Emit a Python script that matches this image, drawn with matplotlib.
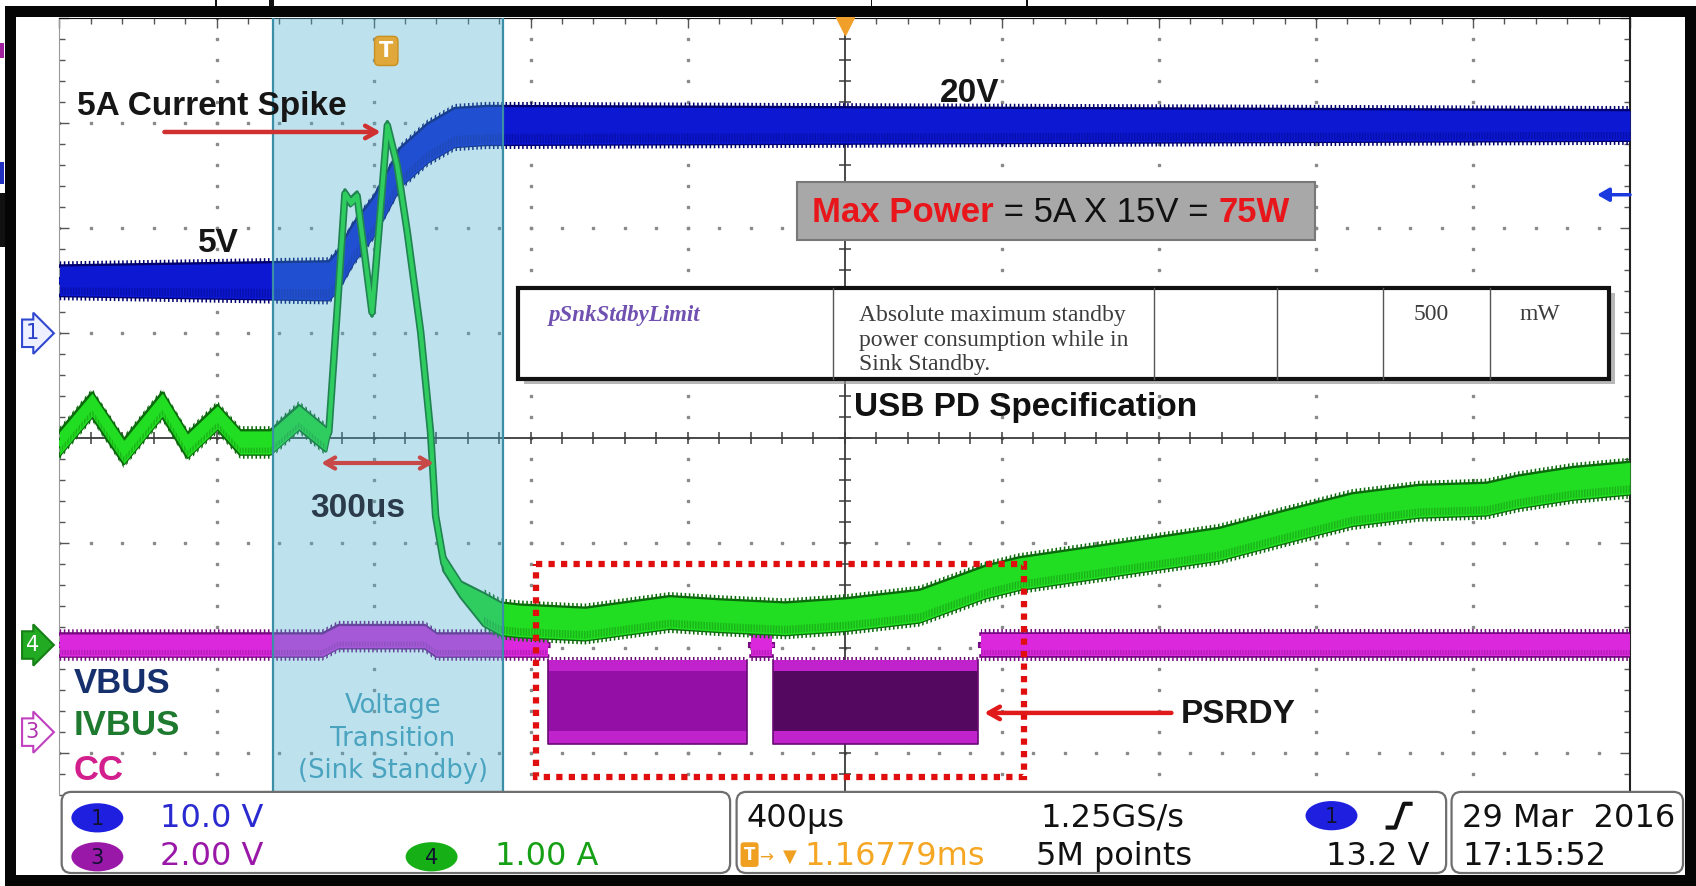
import numpy as np
import matplotlib
matplotlib.use("Agg")
import matplotlib.pyplot as plt
from matplotlib.patches import Rectangle, FancyBboxPatch, Ellipse
from matplotlib.transforms import Affine2D, blended_transform_factory

plt.rcParams["hatch.linewidth"] = 1.1

# ---------------- data ----------------
time_per_div_us = 400.0
ch1_volts_per_div = 10.0
ch3_volts_per_div = 2.0
ch4_amps_per_div = 1.0
ch1_offset_div = 1.0
ch3_offset_div = -2.80
ch4_offset_div = -1.97
trigger_level_v = 13.2
trigger_time_us = -1167.79
sample_rate = "1.25GS/s"
record_length = "5M points"
date_text = "29 Mar  2016"
time_text = "17:15:52"

# CH1 : VBUS (V)
vbus_t_us = [-2000, -1314, -1292, -1251, -1198, -1132, -1063, -994, -912, 2000]
vbus_v = [5.0, 5.0, 5.9, 8.6, 11.2, 15.8, 18.1, 19.6, 19.8, 19.8]

# CH4 : IVBUS (A)
ivbus_t_us = [-2000, -1917, -1836, -1738, -1674, -1598, -1540, -1463, -1390, -1322,
              -1314, -1292, -1273, -1259, -1242, -1204, -1187, -1165, -1140, -1114,
              -1080, -1055, -1042, -1021, -978, -920, -876, -829, -661, -446,
              -320, -152, 3, 190, 358, 444, 700, 953, 1124, 1292,
              1463, 1634, 1716, 1854, 2000]
ivbus_a = [1.92, 2.29, 1.84, 2.29, 1.90, 2.17, 1.93, 1.93, 2.17, 1.96,
           2.03, 3.23, 4.30, 4.22, 4.28, 3.17, 3.93, 4.95, 4.57, 3.93,
           2.98, 2.03, 1.23, 0.78, 0.53, 0.34, 0.25, 0.23, 0.20, 0.31,
           0.28, 0.25, 0.29, 0.37, 0.60, 0.68, 0.82, 0.96, 1.13, 1.29,
           1.37, 1.39, 1.46, 1.54, 1.59]

# CH3 : CC (V) idle sections and PD message bursts
cc_idle1_t_us = [-2000, -1330, -1290, -1070, -1040, -757]
cc_idle1_v = [1.66, 1.66, 1.82, 1.82, 1.66, 1.66]
cc_idle2_t_us = [-240, -185]
cc_idle2_v = [1.66, 1.66]
cc_idle3_t_us = [348, 2000]
cc_idle3_v = [1.66, 1.66]
cc_burst_start_us = [-755, -182]
cc_burst_end_us = [-248, 340]
cc_burst_low_v = -0.22
cc_burst_high_v = 1.37

transition_start_us = -1457
transition_end_us = -870

# ---------------- figure ----------------
W, H = 1568.0, 819.0  # layout units of the reference

fig = plt.figure(figsize=(16.96, 8.86), dpi=100)
fig.patch.set_facecolor("white")


def fx(x):
    return x / W


def fy(y):
    return 1 - y / H


ax = fig.add_axes([fx(55), fy(735), fx(1507) - fx(55), fy(17) - fy(735)])
T = Affine2D().scale(1 / W, -1 / H).translate(0, 1) + fig.transFigure
LEFT = blended_transform_factory(T, ax.transData)

# ---------------- graticule ----------------
xs_major = np.arange(-5, 6) * time_per_div_us
xs_minor = np.arange(-25, 26) * time_per_div_us / 5
ys_major = np.arange(-4, 5)
ys_minor = np.arange(-20, 21) / 5.0
dot = dict(ls="none", marker="s", ms=1.7, color="#8a8a8a", zorder=1)
for xm in xs_major[1:-1]:
    if xm != 0:
        ax.plot(np.full_like(ys_minor, xm), ys_minor, **dot)
for ym in ys_major[1:-1]:
    if ym != 0:
        ax.plot(xs_minor, np.full_like(xs_minor, float(ym)), **dot)
ax.axhline(0, color="#3a3a3a", lw=1.3, zorder=1.5)
ax.axvline(0, color="#3a3a3a", lw=1.3, zorder=1.5)
ax.plot(xs_minor, np.zeros_like(xs_minor), ls="none", marker="|", ms=8, mew=1.1,
        color="#3a3a3a", zorder=1.5)
ax.plot(np.zeros_like(ys_minor), ys_minor, ls="none", marker="_", ms=8, mew=1.1,
        color="#3a3a3a", zorder=1.5)
ax.set_xticks(xs_major)
ax.set_xticks(xs_minor, minor=True)
ax.set_yticks(ys_major)
ax.set_yticks(ys_minor, minor=True)
ax.tick_params(which="both", direction="in", top=True, right=True, bottom=False,
               left=True, labelleft=False, labelbottom=False, color="#555555")
ax.tick_params(which="major", length=7, width=1)
ax.tick_params(which="minor", length=4, width=1)
ax.spines["left"].set_color("#9a9a9a")
ax.spines["right"].set_color("#222222")
ax.spines["right"].set_linewidth(1.5)
ax.spines["top"].set_color("#111111")
ax.spines["bottom"].set_visible(False)


# ---------------- traces ----------------
def band(t, y, hw, fill, edge, z, core_lw=3.0, fuzz=0.045):
    t = np.asarray(t, float)
    y = np.asarray(y, float)
    hw = np.broadcast_to(np.asarray(hw, float), y.shape)
    ax.plot(t, y + hw, color=edge, lw=2.6, zorder=z)
    ax.plot(t, y - hw, color=edge, lw=2.6, zorder=z)
    ax.plot(t, y, color=edge, lw=core_lw + 2.4, zorder=z)
    ax.fill_between(t, y - hw, y + hw, color=fill, lw=0, zorder=z + 0.1)
    ax.plot(t, y, color=fill, lw=core_lw, zorder=z + 0.2)
    # persistence "noise" fringe along both edges
    wide = hw > 0.09
    for a, b in [(y + hw, y + hw + fuzz), (y - hw - fuzz, y - hw)]:
        ax.fill_between(t, a, b, where=wide, facecolor="none", edgecolor=edge,
                        hatch="||||", lw=0, zorder=z + 0.05, interpolate=False)
    ax.fill_between(t, y - hw * 0.45, y - hw + 0.01, where=wide, facecolor="none",
                    edgecolor=edge, hatch="||||||", lw=0, alpha=0.35, zorder=z + 0.15)


# CC (CH3)
cc_fill, cc_edge = "#dc28dc", "#760a80"
for tt, vv in [(cc_idle1_t_us, cc_idle1_v), (cc_idle2_t_us, cc_idle2_v),
               (cc_idle3_t_us, cc_idle3_v)]:
    band(tt, np.asarray(vv) / ch3_volts_per_div + ch3_offset_div, 0.105,
         cc_fill, cc_edge, 3, core_lw=2)
lo = cc_burst_low_v / ch3_volts_per_div + ch3_offset_div
hi = cc_burst_high_v / ch3_volts_per_div + ch3_offset_div
core_colors = ["#940fa6", "#55085f"]
for s, e, cc in zip(cc_burst_start_us, cc_burst_end_us, core_colors):
    ax.fill_between([s, e], [lo, lo], [hi, hi], color="#c022cc", lw=0, zorder=3.3)
    ax.fill_between([s, e], [lo + 0.12, lo + 0.12], [hi - 0.1, hi - 0.1], color=cc,
                    lw=0, zorder=3.4)
    ax.fill_between([s, e], [hi, hi], [hi + 0.035, hi + 0.035], facecolor="none",
                    edgecolor="#6a0a74", hatch="||||", lw=0, zorder=3.4)
    ax.plot([s, s, e, e], [hi, lo, lo, hi], color="#6a0a74", lw=1.2, zorder=3.5)

# VBUS (CH1)
vb_t = np.asarray(vbus_t_us, float)
vb_hw = np.where((vb_t > -1320) & (vb_t < -900), 0.18, 0.14)
band(vb_t, np.asarray(vbus_v) / ch1_volts_per_div + ch1_offset_div, vb_hw,
     "#0c18d2", "#00006e", 4, core_lw=3)

# IVBUS (CH4)
iv_t = np.asarray(ivbus_t_us, float)
iv_hw = np.where(iv_t < -1315, 0.11,
                 np.where(iv_t < -1042, 0.035, np.where(iv_t < -950, 0.07, 0.15)))
band(iv_t, np.asarray(ivbus_a) / ch4_amps_per_div + ch4_offset_div, iv_hw,
     "#22de22", "#0b6a0b", 5, core_lw=3)

# Voltage transition window (semi-transparent overlay)
ax.axvspan(transition_start_us, transition_end_us, color="#48b1d0", alpha=0.36,
           lw=0, zorder=6)
for xb in (transition_start_us, transition_end_us):
    ax.axvline(xb, color="#3a8ea6", lw=1.6, zorder=6.1)

# limits last (tick setting may widen them)
ax.set_xlim(-5 * time_per_div_us, 5 * time_per_div_us)
ax.set_ylim(-3.4, 4.0)

# trigger markers
ax.text(trigger_time_us, 3.69, "T", ha="center", va="center", color="white",
        fontsize=15, fontweight="bold", zorder=8,
        bbox=dict(boxstyle="round,pad=0.22", fc="#e0a83a", ec="#c89020", lw=1))
ax.plot([0], [3.93], marker="v", ms=13, color="#f0a02a", clip_on=False, zorder=8)
lvl = trigger_level_v / ch1_volts_per_div + ch1_offset_div
ax.annotate("", xy=(2000 - 0.21 * time_per_div_us, lvl), xytext=(2000, lvl),
            arrowprops=dict(arrowstyle="-|>,head_length=0.7,head_width=0.4",
                            color="#1a3ae0", lw=2.5, shrinkA=0, shrinkB=0),
            zorder=8, annotation_clip=False)

# channel ground markers at the left
for lab, off, fc, ec, tc in [("1", ch1_offset_div, "#eef0ff", "#3048d0", "#2a40c8"),
                             ("4", ch4_offset_div, "#22aa22", "#168016", "white"),
                             ("3", ch3_offset_div, "#ffffff", "#c040c0", "#b030b0")]:
    ax.text(30, off, lab, transform=LEFT, ha="center", va="center",
            fontsize=15, color=tc, clip_on=False, zorder=9,
            bbox=dict(boxstyle="rarrow,pad=0.18", fc=fc, ec=ec, lw=1.5))

# ---------------- annotations (layout units) ----------------
sans = "Liberation Sans"
kw = dict(transform=T, clip_on=False, zorder=12)
ax.text(71, 106, "5A Current Spike", family=sans, fontweight="bold", fontsize=24,
        color="#161616", **kw)
ax.annotate("", xy=(352, 122), xycoords=T, xytext=(152, 122), textcoords=T,
            arrowprops=dict(arrowstyle="->,head_length=0.8,head_width=0.45",
                            color="#d03030", lw=3.2, shrinkA=0, shrinkB=0),
            zorder=12, annotation_clip=False)
ax.text(183, 233, "5V", family=sans, fontweight="bold", fontsize=24, color="#161616", **kw)
ax.text(869, 94, "20V", family=sans, fontweight="bold", fontsize=24, color="#161616", **kw)
ax.text(287, 478, "300us", family=sans, fontweight="bold", fontsize=24, color="#2b3b4b", **kw)
ax.annotate("", xy=(401, 428), xycoords=T, xytext=(297, 428), textcoords=T,
            arrowprops=dict(arrowstyle="<->,head_length=0.7,head_width=0.4",
                            color="#c84848", lw=3, shrinkA=0, shrinkB=0),
            zorder=12, annotation_clip=False)
ax.text(1092, 668, "PSRDY", family=sans, fontweight="bold", fontsize=24, color="#161616", **kw)
ax.annotate("", xy=(910, 659), xycoords=T, xytext=(1083, 659), textcoords=T,
            arrowprops=dict(arrowstyle="->,head_length=0.8,head_width=0.45",
                            color="#e01a1a", lw=3.2, shrinkA=0, shrinkB=0),
            zorder=12, annotation_clip=False)
ax.add_patch(Rectangle((496, 521), 451, 197, fill=False, ec="#e00e0e", lw=4.5,
                       ls=(0, (1, 1)), transform=T, clip_on=False, zorder=11))

# legend words
for word, yb, col in [("VBUS", 641, "#16306e"), ("IVBUS", 679, "#1d7a2f"),
                      ("CC", 721, "#d31f8d")]:
    ax.text(68, yb, word, family=sans, fontweight="bold", fontsize=25, color=col, **kw)

# transition window text
for line, yb in [("Voltage", 659), ("Transition", 690), ("(Sink Standby)", 719)]:
    ax.text(363, yb, line, family="DejaVu Sans", fontsize=18.5, color="#4aa3bf",
            ha="center", **kw)

# Max power box
ax.add_patch(Rectangle((737, 168), 479, 54, fc="#a8a8a8", ec="#787878", lw=1.5,
                       transform=T, clip_on=False, zorder=11))
t1 = ax.text(751, 205, "Max Power", family=sans, fontweight="bold", fontsize=25,
             color="#e8151b", **kw)
t2 = ax.annotate(" = 5A X 15V = ", xy=(1, 0), xycoords=t1, va="bottom", ha="left",
                 family=sans, fontsize=25, color="#111111", zorder=12)
ax.annotate("75W", xy=(1, 0), xycoords=t2, va="bottom", ha="left", family=sans,
            fontweight="bold", fontsize=25, color="#e8151b", zorder=12)

# USB PD spec table
tx0, ty0, tx1, ty1 = 479, 266, 1488, 350
ax.add_patch(Rectangle((tx0 + 5, ty0 + 5), tx1 - tx0, ty1 - ty0, fc="#9a9a9a",
                       ec="none", alpha=0.7, transform=T, clip_on=False, zorder=10.8))
ax.add_patch(Rectangle((tx0, ty0), tx1 - tx0, ty1 - ty0, fc="white", ec="#111111",
                       lw=3, transform=T, clip_on=False, zorder=11))
for cx in [770, 1067, 1181, 1279, 1378]:
    ax.plot([cx, cx], [ty0, ty1], color="#555555", lw=1, transform=T,
            clip_on=False, zorder=11.5)
serif = "Liberation Serif"
ax.text(507, 297, "pSnkStdbyLimit", family=serif, style="italic", fontweight="bold",
        fontsize=16.5, color="#7050b0", **kw)
for line, yb in [("Absolute maximum standby", 297), ("power consumption while in", 320),
                 ("Sink Standby.", 342)]:
    ax.text(794, yb, line, family=serif, fontsize=17, color="#3c3c3c", **kw)
ax.text(1307, 296, "500", family=serif, fontsize=17, color="#3c3c3c", **kw)
ax.text(1405, 296, "mW", family=serif, fontsize=17, color="#3c3c3c", **kw)
ax.text(790, 385, "USB PD Specification", family=sans, fontweight="bold",
        fontsize=24, color="#111111", **kw)

# ---------------- bottom status panel ----------------
pk = dict(transform=T, clip_on=False)
for x0, x1 in [(57, 675), (681, 1337), (1342, 1556)]:
    ax.add_patch(FancyBboxPatch((x0, 732), x1 - x0, 75,
                                boxstyle="round,pad=0,rounding_size=9",
                                fc="white", ec="#6e6e6e", lw=1.6, zorder=20, **pk))


def badge(x, y, label, color):
    ax.add_patch(Ellipse((x, y), 48, 27, fc=color, ec="none", zorder=21, **pk))
    ax.text(x, y + 1, label, ha="center", va="center", fontsize=15,
            color="#101030", zorder=22, **pk)


badge(90, 756, "1", "#1f1fe0")
badge(90, 792, "3", "#9a18a8")
badge(399, 792, "4", "#16b016")
badge(1231, 754, "1", "#1f1fe0")

mono = dict(family="DejaVu Sans", fontsize=23, zorder=22, **pk)
ax.text(148, 764, f"{ch1_volts_per_div:.1f} V", color="#2a2ad0", **mono)
ax.text(148, 800, f"{ch3_volts_per_div:.2f} V", color="#9a18a8", **mono)
ax.text(458, 800, f"{ch4_amps_per_div:.2f} A", color="#15a015", **mono)
ax.text(690, 764, f"{time_per_div_us:.0f}µs", color="#111111", **mono)
ax.text(962, 764, sample_rate, color="#111111", **mono)
ax.text(958, 800, record_length, color="#111111", **mono)
ax.text(1322, 800, f"{trigger_level_v:.1f} V", ha="right", color="#111111", **mono)
ax.text(1352, 764, date_text, color="#111111", **mono)
ax.text(1352, 800, time_text, color="#111111", **mono)
ax.text(693, 790, "T", ha="center", va="center", fontsize=12, fontweight="bold",
        color="white", zorder=22,
        bbox=dict(boxstyle="round,pad=0.2", fc="#f0a020", ec="none"), **pk)
ax.text(702, 797, "→", fontsize=12, color="#f0a020", zorder=22, **pk)
ax.text(724, 797, "▼", fontsize=13, color="#f0a020", zorder=22, **pk)
ax.text(744, 800, f"{abs(trigger_time_us) / 1000:.5f}ms", color="#f5a623", **mono)
ax.plot([1281, 1290, 1298, 1306], [765, 765, 743, 743], color="#111111", lw=3,
        zorder=22, solid_capstyle="butt", **pk)

# ---------------- outer frame and cut-off bits ----------------
for (x, y, w, h) in [(5, 6, 1563, 10), (5, 6, 10, 813), (5, 809, 1563, 10),
                     (1558, 6, 10, 813)]:
    ax.add_patch(Rectangle((x, y), w, h, fc="#050505", ec="none", zorder=30, **pk))
for (x, y, w, h, c) in [(0, 40, 4, 14, "#a020a0"), (0, 150, 4, 20, "#2030c0"),
                        (0, 178, 5, 50, "#111111"), (199, 0, 1.5, 6, "#111111"),
                        (249, 0, 4, 6, "#111111"), (805, 0, 1.5, 6, "#111111"),
                        (949, 0, 1.5, 6, "#111111")]:
    ax.add_patch(Rectangle((x, y), w, h, fc=c, ec="none", zorder=30, **pk))

fig.savefig("out.png", dpi=100, facecolor="white")
